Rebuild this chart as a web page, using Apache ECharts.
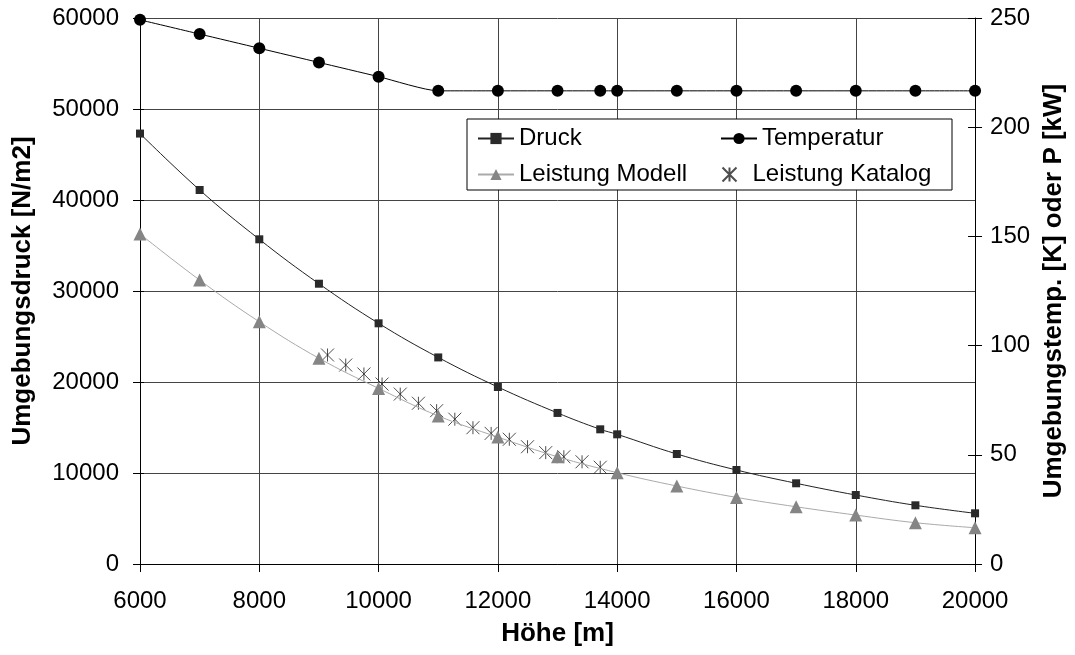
<!DOCTYPE html>
<html>
<head>
<meta charset="utf-8">
<script src="https://cdn.jsdelivr.net/npm/echarts@6/dist/echarts.min.js"></script>
<style>html,body{margin:0;padding:0;background:#fff}#c{width:1075px;height:655px}</style>
</head>
<body>
<div id="c"></div>
<script>
// ---- data ----
const heights = [6000, 7000, 8000, 9000, 10000, 11000, 12000, 13000, 13716, 14000, 15000, 16000, 17000, 18000, 19000, 20000];
const druck = [47300, 41100, 35680, 30800, 26450, 22700, 19450, 16600, 14800, 14250, 12090, 10330, 8870, 7580, 6450, 5570];
const temperatur = [249.15, 242.65, 236.15, 229.65, 223.15, 216.65, 216.65, 216.65, 216.65, 216.65, 216.65, 216.65, 216.65, 216.65, 216.65, 216.65];
const modellHeights = [6000, 7000, 8000, 9000, 10000, 11000, 12000, 13000, 14000, 15000, 16000, 17000, 18000, 19000, 20000];
const leistungModell = [151.1, 130.0, 110.9, 94.2, 80.4, 67.8, 58.1, 49.1, 41.8, 35.7, 30.5, 26.2, 22.4, 18.9, 16.6];
const katalogHeights = [9144, 9449, 9754, 10058, 10363, 10668, 10973, 11278, 11582, 11887, 12192, 12497, 12802, 13106, 13411, 13716];
const leistungKatalog = [95.7, 91.1, 87.0, 82.4, 77.8, 73.6, 70.2, 66.3, 62.4, 59.8, 57.1, 53.7, 51.0, 49.1, 46.8, 44.3];
const seriesNames = ['Druck', 'Temperatur', 'Leistung Modell', 'Leistung Katalog'];

const pairs = (xs, ys) => xs.map((x, i) => [x, ys[i]]);
const FONT = 'Liberation Sans';
const asterisk = 'path://M0,0L10,10M10,0L0,10M5,0L5,10';
const plain = v => String(v);

const chart = echarts.init(document.getElementById('c'), null, {renderer: 'canvas'});
const axisLbl = {color: '#000', fontFamily: FONT, fontSize: 24, formatter: plain};
const nameStyle = {color: '#000', fontFamily: FONT, fontSize: 26, fontWeight: 'bold'};
chart.setOption({
  animation: false,
  backgroundColor: '#fff',
  grid: {left: 140, right: 97, top: 18, bottom: 91, containLabel: false},
  legend: {
    data: seriesNames,
    left: 467, top: 119, width: 520,
    orient: 'horizontal',
    padding: [7, 0, 3, 10],
    itemGap: 11,
    itemWidth: 36, itemHeight: 14,
    borderColor: '#000', borderWidth: 1,
    backgroundColor: '#fff',
    textStyle: {color: '#000', fontFamily: FONT, fontSize: 24, width: 190, lineHeight: 25, overflow: 'truncate'}
  },
  xAxis: {
    type: 'value', min: 6000, max: 20000, interval: 2000,
    name: 'Höhe [m]', nameLocation: 'middle', nameGap: 57, nameTextStyle: nameStyle,
    axisLine: {lineStyle: {color: '#000'}},
    axisTick: {length: 8, lineStyle: {color: '#000'}},
    axisLabel: Object.assign({}, axisLbl, {margin: 25}),
    splitLine: {lineStyle: {color: '#444'}}
  },
  yAxis: [
    {
      type: 'value', min: 0, max: 60000, interval: 10000, position: 'left',
      name: 'Umgebungsdruck [N/m2]', nameLocation: 'middle', nameGap: 104,
      nameTextStyle: nameStyle,
      axisLine: {show: true, lineStyle: {color: '#000'}},
      axisTick: {show: true, length: 7, lineStyle: {color: '#000'}},
      axisLabel: Object.assign({}, axisLbl, {margin: 21}),
      splitLine: {lineStyle: {color: '#444'}}
    },
    {
      type: 'value', min: 0, max: 250, interval: 50, position: 'right',
      name: 'Umgebungstemp. [K] oder P [kW]', nameLocation: 'middle', nameGap: 64, nameRotate: 90,
      nameTextStyle: nameStyle,
      axisLine: {show: true, lineStyle: {color: '#000'}},
      axisTick: {show: true, length: 7, lineStyle: {color: '#000'}},
      axisLabel: Object.assign({}, axisLbl, {margin: 15}),
      splitLine: {show: false}
    },
    {
      type: 'value', min: 0, max: 60000, interval: 10000, position: 'left',
      axisLine: {show: false}, axisLabel: {show: false}, splitLine: {show: false},
      axisTick: {show: true, inside: true, length: 4, lineStyle: {color: '#000'}}
    },
    {
      type: 'value', min: 0, max: 250, interval: 50, position: 'right',
      axisLine: {show: false}, axisLabel: {show: false}, splitLine: {show: false},
      axisTick: {show: true, inside: true, length: 7, lineStyle: {color: '#000'}}
    }
  ],
  series: [
    {
      name: seriesNames[0], type: 'line', yAxisIndex: 0, smooth: 0.4,
      data: pairs(heights, druck),
      symbol: 'rect', symbolSize: 8,
      itemStyle: {color: '#2a2a2a'},
      lineStyle: {color: '#222', width: 1}
    },
    {
      name: seriesNames[1], type: 'line', yAxisIndex: 1, smooth: 0.2,
      data: pairs(heights, temperatur),
      symbol: 'circle', symbolSize: 12,
      itemStyle: {color: '#000'},
      lineStyle: {color: '#000', width: 1}
    },
    {
      name: seriesNames[2], type: 'line', yAxisIndex: 1, smooth: 0.4,
      data: pairs(modellHeights, leistungModell),
      symbol: 'triangle', symbolSize: 13,
      itemStyle: {color: '#858585'},
      lineStyle: {color: '#aaaaaa', width: 1}
    },
    {
      name: seriesNames[3], type: 'scatter', yAxisIndex: 1,
      data: pairs(katalogHeights, leistungKatalog),
      symbol: asterisk, symbolSize: 13, symbolKeepAspect: true,
      itemStyle: {color: 'none', borderColor: '#222', borderWidth: 1}
    }
  ]
});
</script>
</body>
</html>
